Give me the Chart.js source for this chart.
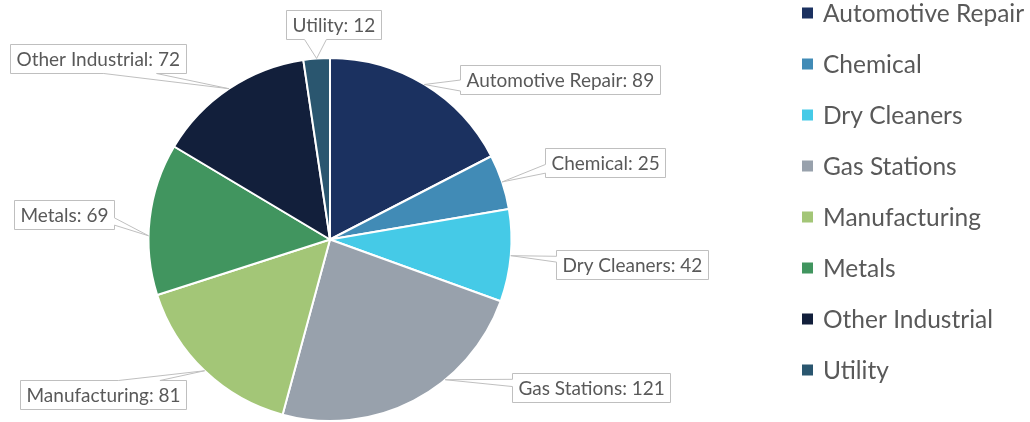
<!DOCTYPE html>
<html>
<head>
<meta charset="utf-8">
<script src="https://cdn.jsdelivr.net/npm/chart.js@4.4.1/dist/chart.umd.min.js"></script>
<style>
  html, body { margin: 0; padding: 0; background: #fff; }
  #wrap { width: 1030px; height: 422px; position: relative; overflow: hidden; }
</style>
</head>
<body>
<div id="wrap"><canvas id="pie" width="1030" height="422"></canvas></div>
<script>
// ---- data ----
const categories = ['Automotive Repair', 'Chemical', 'Dry Cleaners', 'Gas Stations',
  'Manufacturing', 'Metals', 'Other Industrial', 'Utility'];
const counts = [89, 25, 42, 121, 81, 69, 72, 12];
const colors = ['#1b3160', '#418bb6', '#45cae7', '#98a1ac', '#a3c677', '#41955f', '#121f3b', '#2a566f'];

// ---- label callout layout (offset of box from anchor, side the pointer uses) ----
const anchorAt = [0.5, 0.5, 0.5, 0.36, 0.5, 0.39, 0.5, 0.5];
const boxOffset = [[36, -19], [43, -34], [45, -6], [67, -7], [-185, 9], [-135, -36], [-219, -45], [-31, -48]];
const pointerSide = ['left', 'left', 'left', 'left', 'top', 'right', 'bottom', 'bottom'];
const pointerBase = [[0.5, 0.88], [0.55, 0.85], [0.2, 0.4], [0.2, 0.45], [0.59, 0.84], [0.6, 0.85], [0.53, 0.83], [0.19, 0.42]];

const FONT = 'Lato, "Open Sans", sans-serif';
const TEXT = '#595959';

function calloutPath(ctx, x, y, w, h, side, f, ax, ay) {
  ctx.beginPath();
  ctx.moveTo(x, y);
  if (side === 'top') { ctx.lineTo(x + w * f[0], y); ctx.lineTo(ax, ay); ctx.lineTo(x + w * f[1], y); }
  ctx.lineTo(x + w, y);
  if (side === 'right') { ctx.lineTo(x + w, y + h * f[0]); ctx.lineTo(ax, ay); ctx.lineTo(x + w, y + h * f[1]); }
  ctx.lineTo(x + w, y + h);
  if (side === 'bottom') { ctx.lineTo(x + w * f[1], y + h); ctx.lineTo(ax, ay); ctx.lineTo(x + w * f[0], y + h); }
  ctx.lineTo(x, y + h);
  if (side === 'left') { ctx.lineTo(x, y + h * f[1]); ctx.lineTo(ax, ay); ctx.lineTo(x, y + h * f[0]); }
  ctx.closePath();
}

const calloutLabels = {
  id: 'calloutLabels',
  afterDatasetsDraw(chart) {
    const ctx = chart.ctx;
    const meta = chart.getDatasetMeta(0);
    ctx.save();
    ctx.font = '19px ' + FONT;
    ctx.textBaseline = 'middle';
    meta.data.forEach((arc, i) => {
      const p = arc.getProps(['x', 'y', 'startAngle', 'endAngle', 'outerRadius'], true);
      const a = p.startAngle + (p.endAngle - p.startAngle) * anchorAt[i];
      const ax = p.x + Math.cos(a) * p.outerRadius;
      const ay = p.y + Math.sin(a) * p.outerRadius;
      const txt = categories[i] + ': ' + counts[i];
      const w = Math.round(ctx.measureText(txt).width + 12);
      const h = 29;
      const bx = Math.round(ax + boxOffset[i][0]) + 0.5;
      const by = Math.round(ay + boxOffset[i][1]) + 0.5;
      calloutPath(ctx, bx, by, w, h, pointerSide[i], pointerBase[i], ax, ay);
      ctx.fillStyle = '#fff';
      ctx.fill();
      ctx.strokeStyle = '#bfbfbf';
      ctx.lineWidth = 1;
      ctx.stroke();
      ctx.fillStyle = TEXT;
      ctx.textAlign = 'left';
      ctx.fillText(txt, bx + 6, by + h / 2 + 1);
    });
    ctx.restore();
  }
};

const sideLegend = {
  id: 'sideLegend',
  afterDraw(chart) {
    const ctx = chart.ctx;
    const ds = chart.data.datasets[0];
    ctx.save();
    ctx.font = '24.5px ' + FONT;
    ctx.textBaseline = 'middle';
    chart.data.labels.forEach((lab, i) => {
      const cy = 13 + i * 51;
      ctx.fillStyle = ds.backgroundColor[i];
      ctx.fillRect(802, cy - 5.5, 11, 11);
      ctx.fillStyle = TEXT;
      ctx.fillText(lab, 823, cy + 1);
    });
    ctx.restore();
  }
};

new Chart(document.getElementById('pie'), {
  type: 'pie',
  data: {
    labels: categories,
    datasets: [{
      data: counts,
      backgroundColor: colors,
      borderColor: '#ffffff',
      borderWidth: 2,
    }]
  },
  options: {
    responsive: false,
    animation: false,
    events: [],
    layout: { padding: { left: 146, right: 516, top: 57, bottom: 0 } },
    plugins: { legend: { display: false }, tooltip: { enabled: false } }
  },
  plugins: [calloutLabels, sideLegend]
});
</script>
</body>
</html>
